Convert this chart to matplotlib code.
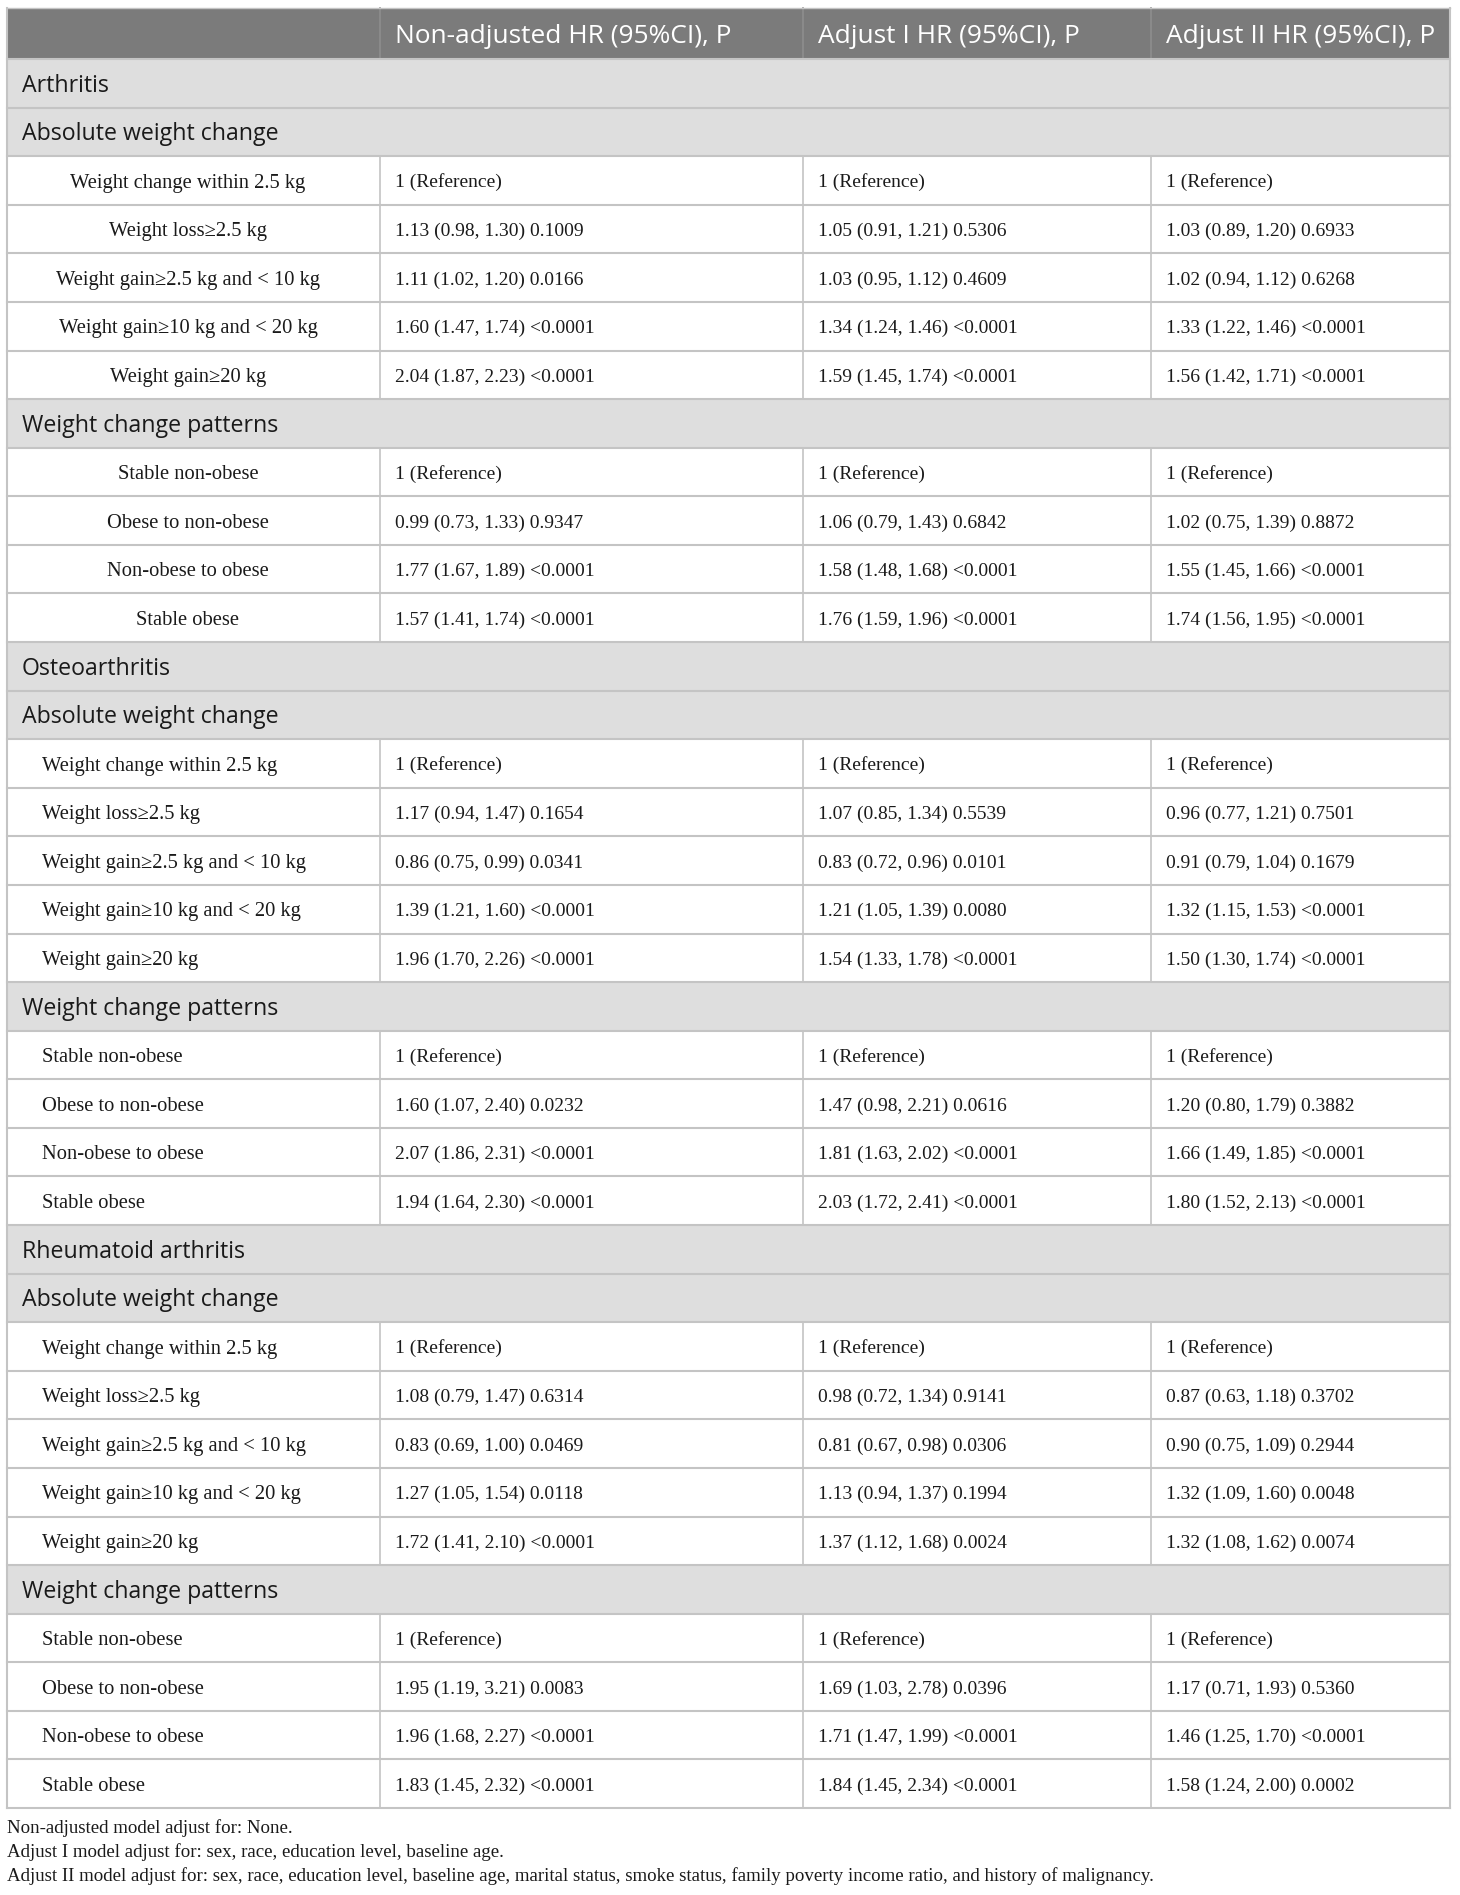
import matplotlib
matplotlib.use("Agg")
import matplotlib.pyplot as plt
from matplotlib.patches import Rectangle

# ---------------- data ----------------
columns = ["", "Non-adjusted HR (95%CI), P", "Adjust I HR (95%CI), P", "Adjust II HR (95%CI), P"]
diseases = ["Arthritis", "Osteoarthritis", "Rheumatoid arthritis"]
group_names = ["Absolute weight change", "Weight change patterns"]
abs_labels = ["Weight change within 2.5 kg", "Weight loss\u22652.5 kg",
              "Weight gain\u22652.5 kg and < 10 kg", "Weight gain\u226510 kg and < 20 kg",
              "Weight gain\u226520 kg"]
pattern_labels = ["Stable non-obese", "Obese to non-obese", "Non-obese to obese", "Stable obese"]

arthritis_nonadj = ["1 (Reference)", "1.13 (0.98, 1.30) 0.1009", "1.11 (1.02, 1.20) 0.0166",
                    "1.60 (1.47, 1.74) <0.0001", "2.04 (1.87, 2.23) <0.0001",
                    "1 (Reference)", "0.99 (0.73, 1.33) 0.9347", "1.77 (1.67, 1.89) <0.0001",
                    "1.57 (1.41, 1.74) <0.0001"]
arthritis_adj1 = ["1 (Reference)", "1.05 (0.91, 1.21) 0.5306", "1.03 (0.95, 1.12) 0.4609",
                  "1.34 (1.24, 1.46) <0.0001", "1.59 (1.45, 1.74) <0.0001",
                  "1 (Reference)", "1.06 (0.79, 1.43) 0.6842", "1.58 (1.48, 1.68) <0.0001",
                  "1.76 (1.59, 1.96) <0.0001"]
arthritis_adj2 = ["1 (Reference)", "1.03 (0.89, 1.20) 0.6933", "1.02 (0.94, 1.12) 0.6268",
                  "1.33 (1.22, 1.46) <0.0001", "1.56 (1.42, 1.71) <0.0001",
                  "1 (Reference)", "1.02 (0.75, 1.39) 0.8872", "1.55 (1.45, 1.66) <0.0001",
                  "1.74 (1.56, 1.95) <0.0001"]
osteo_nonadj = ["1 (Reference)", "1.17 (0.94, 1.47) 0.1654", "0.86 (0.75, 0.99) 0.0341",
                "1.39 (1.21, 1.60) <0.0001", "1.96 (1.70, 2.26) <0.0001",
                "1 (Reference)", "1.60 (1.07, 2.40) 0.0232", "2.07 (1.86, 2.31) <0.0001",
                "1.94 (1.64, 2.30) <0.0001"]
osteo_adj1 = ["1 (Reference)", "1.07 (0.85, 1.34) 0.5539", "0.83 (0.72, 0.96) 0.0101",
              "1.21 (1.05, 1.39) 0.0080", "1.54 (1.33, 1.78) <0.0001",
              "1 (Reference)", "1.47 (0.98, 2.21) 0.0616", "1.81 (1.63, 2.02) <0.0001",
              "2.03 (1.72, 2.41) <0.0001"]
osteo_adj2 = ["1 (Reference)", "0.96 (0.77, 1.21) 0.7501", "0.91 (0.79, 1.04) 0.1679",
              "1.32 (1.15, 1.53) <0.0001", "1.50 (1.30, 1.74) <0.0001",
              "1 (Reference)", "1.20 (0.80, 1.79) 0.3882", "1.66 (1.49, 1.85) <0.0001",
              "1.80 (1.52, 2.13) <0.0001"]
ra_nonadj = ["1 (Reference)", "1.08 (0.79, 1.47) 0.6314", "0.83 (0.69, 1.00) 0.0469",
             "1.27 (1.05, 1.54) 0.0118", "1.72 (1.41, 2.10) <0.0001",
             "1 (Reference)", "1.95 (1.19, 3.21) 0.0083", "1.96 (1.68, 2.27) <0.0001",
             "1.83 (1.45, 2.32) <0.0001"]
ra_adj1 = ["1 (Reference)", "0.98 (0.72, 1.34) 0.9141", "0.81 (0.67, 0.98) 0.0306",
           "1.13 (0.94, 1.37) 0.1994", "1.37 (1.12, 1.68) 0.0024",
           "1 (Reference)", "1.69 (1.03, 2.78) 0.0396", "1.71 (1.47, 1.99) <0.0001",
           "1.84 (1.45, 2.34) <0.0001"]
ra_adj2 = ["1 (Reference)", "0.87 (0.63, 1.18) 0.3702", "0.90 (0.75, 1.09) 0.2944",
           "1.32 (1.09, 1.60) 0.0048", "1.32 (1.08, 1.62) 0.0074",
           "1 (Reference)", "1.17 (0.71, 1.93) 0.5360", "1.46 (1.25, 1.70) <0.0001",
           "1.58 (1.24, 2.00) 0.0002"]
footnotes = ["Non-adjusted model adjust for: None.",
             "Adjust I model adjust for: sex, race, education level, baseline age.",
             "Adjust II model adjust for: sex, race, education level, baseline age, marital status, "
             "smoke status, family poverty income ratio, and history of malignancy."]

disease_values = [
    (arthritis_nonadj, arthritis_adj1, arthritis_adj2),
    (osteo_nonadj, osteo_adj1, osteo_adj2),
    (ra_nonadj, ra_adj1, ra_adj2),
]
label_centered = [True, False, False]

# ---------------- layout ----------------
W, H = 1460, 1895
fig = plt.figure(figsize=(W / 100, H / 100), dpi=100)
ax = fig.add_axes([0, 0, 1, 1])
ax.set_xlim(0, W)
ax.set_ylim(H, 0)
ax.axis("off")

col_x = [7, 380, 803, 1151, 1450]
top = 7.5
header_h = 51.5
bottom = 1808
n_body = 3 * 12
row_h = (bottom - top - header_h) / n_body

HEADER_BG = "#7b7b7b"
SECTION_BG = "#dedede"
LINE = "#c4c4c4"
TEXT = "#1a1a1a"
SANS = "Open Sans"
SERIF = "Liberation Serif"
CAP_SANS = 0.714
CAP_SERIF = 0.662

renderer = fig.canvas.get_renderer()


def fit_size(text, family, target_w, base=14):
    t = ax.text(0, 0, text, fontsize=base, family=family)
    w = t.get_window_extent(renderer).width
    t.remove()
    return base * target_w / w


def px(fs):
    return fs * 100 / 72


header_fs = fit_size(columns[1], SANS, 337)
section_fs = fit_size(group_names[0], SANS, 258)
data_fs = fit_size(arthritis_nonadj[1], SERIF, 189)
label_fs = fit_size(abs_labels[0], SERIF, 236)
foot_fs = fit_size(footnotes[2], SERIF, 1157)

# build rows
rows = []
for d, dis in enumerate(diseases):
    vals = disease_values[d]
    rows.append(("section", dis))
    rows.append(("section", group_names[0]))
    for i, lab in enumerate(abs_labels):
        rows.append(("data", [lab, vals[0][i], vals[1][i], vals[2][i]], label_centered[d]))
    rows.append(("section", group_names[1]))
    for j, lab in enumerate(pattern_labels):
        i = 5 + j
        rows.append(("data", [lab, vals[0][i], vals[1][i], vals[2][i]], label_centered[d]))

# header
ax.add_patch(Rectangle((col_x[0], top), col_x[-1] - col_x[0], header_h,
                       facecolor=HEADER_BG, edgecolor="none", zorder=1))
hb = top + header_h / 2 + px(header_fs) * CAP_SANS / 2
for c in range(1, 4):
    ax.plot([col_x[c], col_x[c]], [top, top + header_h], color="#8e8e8e", lw=1.2, zorder=2)
    ax.text(col_x[c] + 15, hb, columns[c], color="white", fontsize=header_fs,
            family=SANS, va="baseline", ha="left", zorder=3)

for r, row in enumerate(rows):
    y0 = top + header_h + r * row_h
    yc = y0 + row_h / 2
    kind = row[0]
    if kind == "section":
        ax.add_patch(Rectangle((col_x[0], y0), col_x[-1] - col_x[0], row_h,
                               facecolor=SECTION_BG, edgecolor="none", zorder=1))
        ax.text(22, yc + px(section_fs) * CAP_SANS / 2, row[1], color=TEXT,
                fontsize=section_fs, family=SANS, va="baseline", ha="left", zorder=3)
    else:
        cells, centered = row[1], row[2]
        for c in range(1, 4):
            ax.plot([col_x[c], col_x[c]], [y0, y0 + row_h], color=LINE, lw=1.2, zorder=2)
        lb = yc + px(label_fs) * CAP_SERIF / 2 + 0.5
        if centered:
            ax.text(188, lb, cells[0], color=TEXT, fontsize=label_fs,
                    family=SERIF, va="baseline", ha="center", zorder=3)
        else:
            ax.text(42, lb, cells[0], color=TEXT, fontsize=label_fs, family=SERIF,
                    va="baseline", ha="left", zorder=3)
        db = yc + px(data_fs) * CAP_SERIF / 2 + 0.5
        for c in range(1, 4):
            ax.text(col_x[c] + 15, db, cells[c], color=TEXT, fontsize=data_fs,
                    family=SERIF, va="baseline", ha="left", zorder=3)
    # horizontal rule at top of row
    ax.plot([col_x[0], col_x[-1]], [y0, y0], color=LINE, lw=1.5, zorder=2)

ax.plot([col_x[0], col_x[-1]], [bottom, bottom], color=LINE, lw=1.5, zorder=2)
ax.plot([col_x[0], col_x[0]], [top, bottom], color=LINE, lw=1.5, zorder=2)
ax.plot([col_x[-1], col_x[-1]], [top, bottom], color=LINE, lw=1.5, zorder=2)
ax.plot([col_x[0], col_x[-1]], [top, top], color=LINE, lw=1.0, zorder=2)

foot_baselines = [1833, 1857, 1881]
for fy, txt in zip(foot_baselines, footnotes):
    ax.text(7, fy, txt, color=TEXT, fontsize=foot_fs, family=SERIF, va="baseline", ha="left")

fig.savefig("out.png", dpi=100, facecolor="white")
